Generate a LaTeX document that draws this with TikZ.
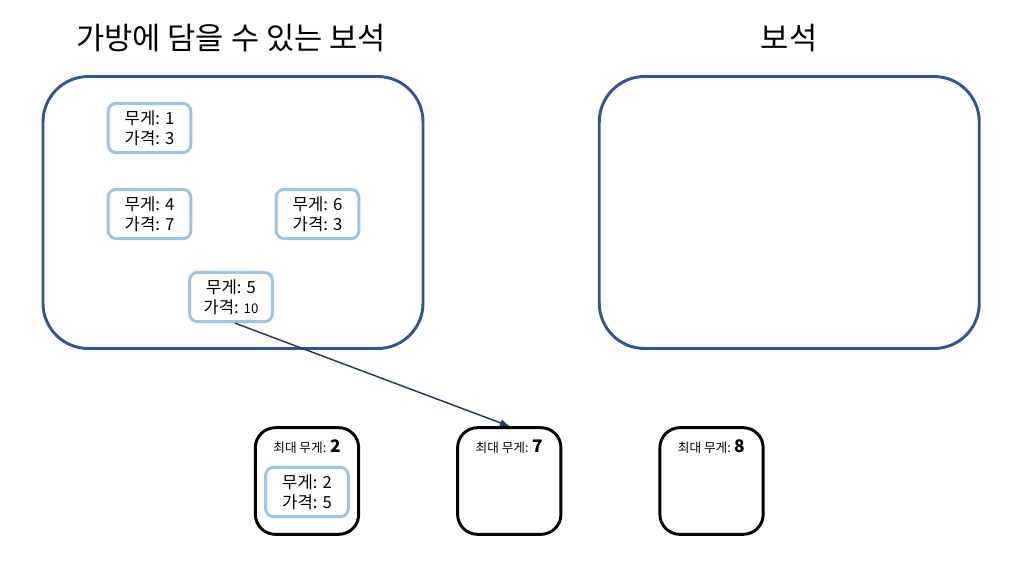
\documentclass[tikz,border=0pt]{standalone}
\usepackage{fontspec}
\setmainfont{Noto Sans CJK KR}
\usepackage{xcolor}
\usetikzlibrary{arrows.meta, positioning}
\definecolor{boxblue}{HTML}{2F5597}
\definecolor{gemblue}{HTML}{9DC3E6}
\definecolor{arrownavy}{HTML}{203864}

\begin{document}
\begin{tikzpicture}[
  x=0.75pt, y=-0.75pt,
  node distance=72pt,
  title/.style={font=\fontsize{23}{27}\selectfont},
  bigbox/.style={rectangle, draw=boxblue, line width=2.2pt, rounded corners=34pt, minimum width=285pt, minimum height=204pt},
  gem/.style={rectangle, draw=gemblue, line width=2.2pt, rounded corners=6pt, fill=white, align=center, inner sep=0pt,
    minimum width=62pt, minimum height=37pt, font=\fontsize{12.5}{15}\selectfont},
  bagbox/.style={rectangle, draw=black, line width=2.2pt, rounded corners=15pt, minimum width=77.5pt, minimum height=80pt},
  baglabel/.style={font=\fontsize{9.5}{11}\selectfont, inner sep=0pt},
]
\useasboundingbox (0,0) rectangle (1021,561);

% 가방에 담을 수 있는 보석 / 보석
\node[bigbox] (pool) at (233,212.5) {};
\node[bigbox, right=130pt of pool] (picked) {};
\node[title] (pooltitle) at (231,38) {가방에 담을 수 있는 보석};
\node[title] (pickedtitle) at (789,38) {보석};

% gems
\node[gem] (gemA) at (149.5,128) {무게: 1\\가격: 3};
\node[gem] (gemB) at (149.5,214) {무게: 4\\가격: 7};
\node[gem] (gemC) at (317.5,214) {무게: 6\\가격: 3};
\node[gem] (gemD) at (231,297) {무게: 5\\가격: {\fontsize{10}{10}\selectfont 10}};

% bags
\node[bagbox] (bagA) at (307,481) {};
\node[bagbox, right=of bagA] (bagB) {};
\node[bagbox, right=of bagB] (bagC) {};
\node[baglabel] (capA) at ([yshift=-15pt]bagA.north) {최대 무게: {\fontsize{13}{13}\selectfont\bfseries 2}};
\node[baglabel] (capB) at ([yshift=-15pt]bagB.north) {최대 무게: {\fontsize{13}{13}\selectfont\bfseries 7}};
\node[baglabel] (capC) at ([yshift=-15pt]bagC.north) {최대 무게: {\fontsize{13}{13}\selectfont\bfseries 8}};
\node[gem] (gemE) at (307,492) {무게: 2\\가격: 5};

\draw[-{Triangle[length=7pt,width=5pt]}, arrownavy, line width=1.1pt] ([xshift=3pt]gemD.south) -- (bagB.north);
\end{tikzpicture}
\end{document}
